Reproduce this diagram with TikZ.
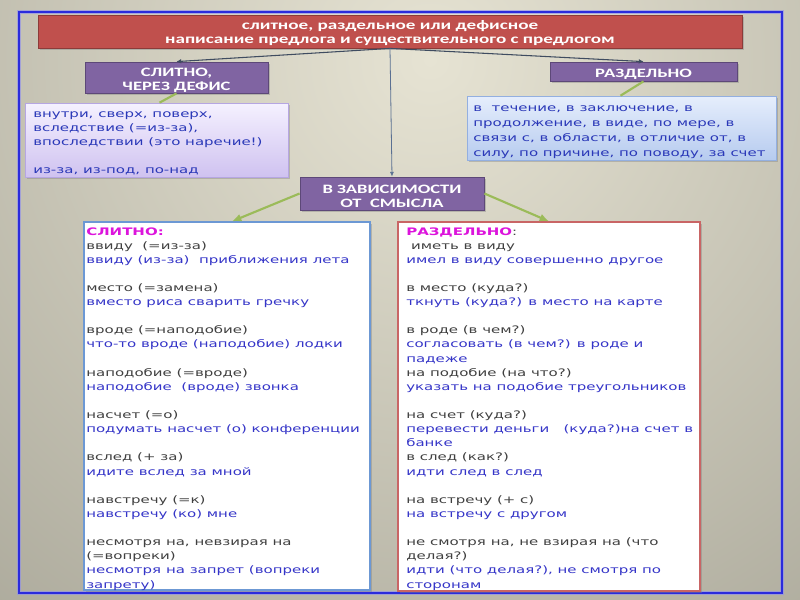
\documentclass[tikz,border=0pt]{standalone}
\usepackage{fontspec}
\usetikzlibrary{arrows.meta,shadows,fit,calc}
\newfontfamily\cf{DejaVu Sans}[FakeStretch=1.45]
\newfontfamily\hf{Carlito}[FakeStretch=1.45]
\definecolor{bgIn}{HTML}{E6E3D3}
\definecolor{bgOut}{HTML}{8A887B}
\definecolor{frameC}{HTML}{2B2BDC}
\definecolor{glowC}{HTML}{8D8DF0}
\definecolor{titleF}{HTML}{C0504D}
\definecolor{titleD}{HTML}{8C3B39}
\definecolor{purpF}{HTML}{8064A2}
\definecolor{purpD}{HTML}{5D4878}
\definecolor{lavT}{HTML}{F5F1FF}
\definecolor{lavB}{HTML}{CFC2F0}
\definecolor{lavD}{HTML}{B6A6E2}
\definecolor{bluT}{HTML}{E6EEFC}
\definecolor{bluB}{HTML}{B6CBEF}
\definecolor{bluD}{HTML}{93AFE0}
\definecolor{wBL}{HTML}{6C98D4}
\definecolor{wBR}{HTML}{C96565}
\definecolor{connC}{HTML}{3F4C60}
\definecolor{connV}{HTML}{5A7092}
\definecolor{grn}{HTML}{9BBB59}
\definecolor{txtBlue}{HTML}{3535C8}
\definecolor{txtGray}{HTML}{404040}
\definecolor{mag}{HTML}{DC14DC}
\definecolor{lavTxt}{HTML}{2A38B8}
\tikzset{
  tline/.style={anchor=base west, inner sep=0pt, font=\cf\fontsize{7.75}{10}\selectfont},
  hdr/.style={inner sep=0pt, align=center, text=white, yshift=-1.8pt, font=\hf\bfseries\fontsize{9.6}{10.5}\selectfont},
  ttl/.style={inner sep=0pt, align=center, text=white, yshift=-1.5pt, font=\hf\bfseries\fontsize{9.9}{10.5}\selectfont},
  shad/.style={drop shadow={shadow xshift=1.5pt, shadow yshift=-1.5pt, opacity=0.4}},
  titlebox/.style={inner sep=0pt, fill=titleF, draw=titleD, line width=0.6pt, shad},
  purpbox/.style={inner sep=0pt, fill=purpF, draw=purpD, line width=0.6pt, shad},
  lavbox/.style={inner sep=0pt, top color=lavT, bottom color=lavB, draw=lavD, line width=0.5pt, shad},
  blubox/.style={inner sep=0pt, top color=bluT, bottom color=bluB, draw=bluD, line width=0.5pt, shad},
  wbox/.style={inner sep=0pt, fill=white, line width=1pt, shad},
  darkconn/.style={draw=connC, line width=0.8pt, -{Latex[length=3.5pt,width=3.5pt]}},
  vconn/.style={draw=connV, line width=0.6pt, -{Latex[length=3.5pt,width=3pt]}},
  grnline/.style={draw=grn, line width=1.6pt},
  grnarrow/.style={draw=grn, line width=1.6pt, -{Latex[length=7pt,width=6pt]}}
}
\newcommand\Lline[3]{\node[tline,text=#2] (L#1) at (86,{235+14.12*#1}) {#3};}
\newcommand\Rline[3]{\node[tline,text=#2] (R#1) at (406,{235+14.12*#1}) {#3};}
\begin{document}
\begin{tikzpicture}[x=0.75pt,y=-0.75pt]
\useasboundingbox (0,0) rectangle (800,600);
\begin{scope}
  \clip (0,0) rectangle (800,600);
  \shade[inner color=bgIn, outer color=bgOut] (430,60) circle (1150);
\end{scope}
% frame
\draw[glowC, line width=3.5pt, opacity=0.6] (19,12) rectangle (782,593);
\draw[frameC, line width=1.5pt] (19,12) rectangle (782,593);

% header boxes
\node[titlebox, fit={(38,15) (742,48)}] (T) {};
\node[purpbox, fit={(85,62) (268,93)}] (S1) {};
\node[purpbox, fit={(550,62) (737,81)}] (S2) {};
\node[purpbox, fit={(300,177) (484,210)}] (D) {};
\node[ttl] (Tt) at (T.center) {слитное, раздельное или дефисное\\написание предлога и существительного с предлогом};
\node[hdr] (S1t) at (S1.center) {СЛИТНО,\\ЧЕРЕЗ ДЕФИС};
\node[hdr] (S2t) at (S2.center) {РАЗДЕЛЬНО};
\node[hdr] (Dt) at (D.center) {В ЗАВИСИМОСТИ\\ОТ~ СМЫСЛА};

% content boxes
\node[lavbox, fit={(25,103) (288,177)}] (B1) {};
\node[blubox, fit={(467,96) (776,160)}] (B2) {};
\node[wbox, draw=wBL, fit={(84,222) (370,590)}] (W1) {};
\node[wbox, draw=wBR, fit={(398,222) (700,591)}] (W2) {};

% connectors
\draw[darkconn] (T.south) -- (S1.north);
\draw[darkconn] (T.south) -- (S2.north);
\draw[vconn] (T.south) -- (D.north);
\draw[grnline] (S1.south) -- ($(B1.north)+(3,0)$);
\draw[grnline] (S2.south) -- ($(B2.north)+(-1,0)$);
\draw[grnarrow] (D.west) -- ($(W1.north)+(5,0)$);
\draw[grnarrow] (D.east) -- ($(W2.north)+(0,0)$);

% lavender box text
\node[tline,text=lavTxt] (V1) at (33,117.5) {внутри, сверх, поверх,};
\node[tline,text=lavTxt] (V2) at (33,131.5) {вследствие (=из-за),};
\node[tline,text=lavTxt] (V3) at (33,145.5) {впоследствии (это наречие!)};
\node[tline,text=lavTxt] (V4) at (33,173.5) {из-за, из-под, по-над};

% blue box text
\node[tline,text=lavTxt] (U1) at (473,111) {в~ течение, в заключение, в};
\node[tline,text=lavTxt] (U2) at (473,126) {продолжение, в виде, по мере, в};
\node[tline,text=lavTxt] (U3) at (473,141) {связи с, в области, в отличие от, в};
\node[tline,text=lavTxt] (U4) at (473,156) {силу, по причине, по поводу, за счет};

% left column
\Lline{0}{mag}{\bfseries СЛИТНО:}
\Lline{1}{txtGray}{ввиду~ (=из-за)}
\Lline{2}{txtBlue}{ввиду (из-за)~ приближения лета}
\Lline{4}{txtGray}{место (=замена)}
\Lline{5}{txtBlue}{вместо риса сварить гречку}
\Lline{7}{txtGray}{вроде (=наподобие)}
\Lline{8}{txtBlue}{что-то вроде (наподобие) лодки}
\Lline{10}{txtGray}{наподобие (=вроде)}
\Lline{11}{txtBlue}{наподобие~ (вроде) звонка}
\Lline{13}{txtGray}{насчет (=о)}
\Lline{14}{txtBlue}{подумать насчет (о) конференции}
\Lline{16}{txtGray}{вслед (+ за)}
\Lline{17}{txtBlue}{идите вслед за мной}
\Lline{19}{txtGray}{навстречу (=к)}
\Lline{20}{txtBlue}{навстречу (ко) мне}
\Lline{22}{txtGray}{несмотря на, невзирая на}
\Lline{23}{txtGray}{(=вопреки)}
\Lline{24}{txtBlue}{несмотря на запрет (вопреки}
\Lline{25}{txtBlue}{запрету)}

% right column
\Rline{0}{mag}{\bfseries РАЗДЕЛЬНО{\color{txtGray}\mdseries:}}
\Rline{1}{txtGray}{\ иметь в виду}
\Rline{2}{txtBlue}{имел в виду совершенно другое}
\Rline{4}{txtGray}{в место (куда?)}
\Rline{5}{txtBlue}{ткнуть (куда?) в место на карте}
\Rline{7}{txtGray}{в роде (в чем?)}
\Rline{8}{txtBlue}{согласовать (в чем?) в роде и}
\Rline{9}{txtBlue}{падеже}
\Rline{10}{txtGray}{на подобие (на что?)}
\Rline{11}{txtBlue}{указать на подобие треугольников}
\Rline{13}{txtGray}{на счет (куда?)}
\Rline{14}{txtBlue}{перевести деньги~~ (куда?)на счет в}
\Rline{15}{txtBlue}{банке}
\Rline{16}{txtGray}{в след (как?)}
\Rline{17}{txtBlue}{идти след в след}
\Rline{19}{txtGray}{на встречу (+ с)}
\Rline{20}{txtBlue}{на встречу с другом}
\Rline{22}{txtGray}{не смотря на, не взирая на (что}
\Rline{23}{txtGray}{делая?)}
\Rline{24}{txtBlue}{идти (что делая?), не смотря по}
\Rline{25}{txtBlue}{сторонам}
\end{tikzpicture}
\end{document}
